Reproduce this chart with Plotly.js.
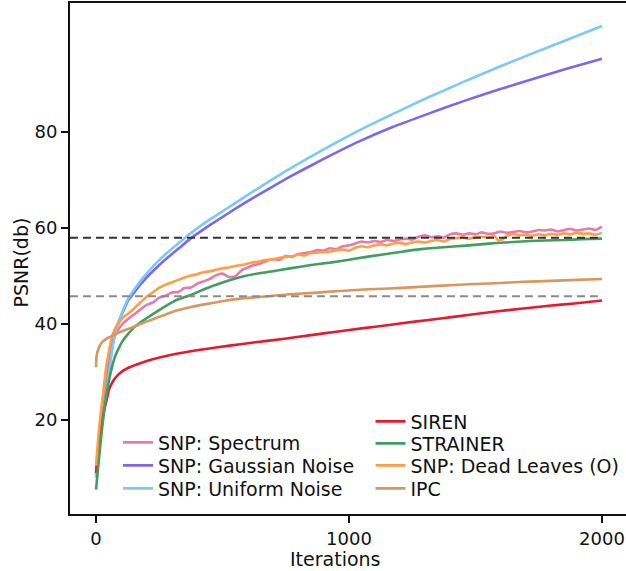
<!DOCTYPE html>
<html>
<head>
<meta charset="utf-8">
<script src="https://cdn.plot.ly/plotly-3.0.1.min.js"></script>
<style>html,body{margin:0;padding:0;background:#fff;}#chart{width:626px;height:571px;}</style>
</head>
<body>
<div id="chart"></div>
<script>
// ---- data ----
const spectrumIter = [0,10,20,30,40,50,62,75,90,110,130,150,175,200,225,250,275,300,325,350,375,400,425,450,475,500,525,550,575,600,625,650,675,700,725,750,775,800,825,850,875,900,925,950,975,1000,1025,1050,1075,1100,1125,1150,1175,1200,1225,1250,1275,1300,1325,1350,1375,1400,1425,1450,1475,1500,1525,1550,1575,1600,1625,1650,1675,1700,1725,1750,1775,1800,1825,1850,1875,1900,1925,1950,1975,2000];
const spectrumPSNR = [9.5,15,20,25,29,32,35.5,37.5,39,40.3,41.2,42,43,44,44.5,45.5,45.9,46.6,46.7,47.5,47.6,48.4,48.9,49.4,50.2,50.5,49.8,49.9,51.2,51.8,52.3,52.6,53.2,53.5,53.4,54.2,54.0,54.6,54.8,55.0,55.4,55.3,55.8,55.6,56.2,56.4,56.8,57.2,57.0,57.3,57.1,57.5,57.3,57.6,57.8,57.6,58.2,58.5,58.1,58.3,58.0,58.7,58.9,58.6,58.9,58.7,59.1,58.8,58.9,59.3,59.0,59.2,59.4,59.1,59.3,59.6,59.5,59.7,59.3,59.6,59.8,59.5,59.7,59.9,59.6,60.3];

const gaussIter = [0,10,20,36,50,62,75,90,110,128,147,175,200,240,280,330,376,450,556,650,763,900,1038,1170,1312,1450,1589,1730,1860,2000];
const gaussPSNR = [8.5,14,18.5,24.2,30,34.5,38.1,40.5,43,45,46.3,48.2,49.7,51.8,53.7,55.9,57.9,60.6,64.2,67.2,70.6,74.4,78.0,81.0,83.8,86.4,88.8,91.1,93.2,95.3];

const uniformIter = [0,10,20,36,50,62,75,90,110,128,147,175,200,240,280,350,376,450,556,650,763,900,1038,1170,1312,1450,1589,1730,1860,2000];
const uniformPSNR = [8,13.5,18,23.8,29.5,34,37.8,40.6,43.3,45.4,46.9,48.9,50.5,52.8,54.8,57.9,59.0,61.8,65.4,68.6,72.3,76.4,80.3,83.7,87.2,90.4,93.5,96.5,99.2,102.1];

const sirenIter = [0,10,20,30,42,51,62,75,100,128,178,220,318,420,528,630,738,850,950,1050,1158,1260,1370,1470,1579,1680,1790,1890,2000];
const sirenPSNR = [9,14,18.5,21.5,24.2,26.3,27.6,28.7,30.0,30.9,31.9,32.6,33.8,34.7,35.5,36.2,36.9,37.7,38.4,39.1,39.8,40.5,41.2,41.9,42.6,43.2,43.8,44.3,44.9];

const strainerIter = [0,10,22,35,49,62,75,90,108,128,150,175,200,240,280,318,372,430,503,580,635,700,767,850,925,1000,1057,1120,1188,1250,1320,1400,1451,1520,1584,1650,1715,1780,1847,1920,2000];
const strainerPSNR = [5.5,11,17.3,23,27.6,30.8,33.2,35,36.7,38,39.3,40.3,41.2,42.6,43.9,45.0,46.0,47.3,48.7,49.9,50.5,51.0,51.6,52.3,52.8,53.4,53.9,54.4,54.9,55.4,55.8,56.1,56.3,56.6,56.9,57.1,57.3,57.4,57.5,57.7,57.8];

const deadIter = [0,10,20,29,40,50,62,75,90,110,130,150,175,200,225,250,275,300,325,350,375,400,425,450,475,500,525,550,575,600,625,650,675,700,725,750,775,800,825,850,875,900,925,950,975,1000,1025,1050,1075,1100,1125,1150,1175,1200,1225,1250,1275,1300,1325,1350,1375,1400,1425,1450,1475,1500,1525,1550,1575,1590,1605,1625,1650,1675,1700,1725,1750,1775,1800,1825,1850,1875,1900,1925,1950,1975,2000];
const deadPSNR = [10.5,17,22,26,31,34,37.2,39,40.3,41.5,42.3,43.2,44.5,45.7,46.6,47.6,48.2,48.7,49.2,49.7,50.1,50.4,50.8,51.0,51.3,51.6,51.8,52.1,52.3,52.6,52.9,53.1,53.4,53.5,53.8,54.0,54.1,54.5,54.3,54.8,54.9,55.0,55.1,55.4,55.5,55.3,55.9,56.2,56.0,56.4,56.6,56.4,56.8,56.9,56.7,57.0,57.2,57.0,57.3,57.5,57.2,57.7,57.9,58.0,57.8,58.1,58.2,58.0,58.3,57.4,57.6,58.4,58.75,58.5,58.6,58.4,58.7,58.5,58.8,58.6,58.9,58.7,59.0,58.8,58.9,58.6,59.0];

const ipcIter = [0,1,3,8,15,22,35,50,62,80,108,128,175,220,270,318,372,440,503,570,635,700,767,860,964,1060,1158,1260,1370,1470,1579,1690,1800,1900,2000];
const ipcPSNR = [31,32.5,33.6,34.6,35.5,36.1,36.7,37.2,37.5,38.0,38.6,39.0,40.0,40.9,41.9,42.8,43.5,44.2,44.8,45.3,45.6,45.9,46.2,46.5,46.9,47.2,47.4,47.7,48.0,48.3,48.5,48.8,49.0,49.2,49.4];

const refLevels = [58, 45.8];          // dashed reference levels (PSNR)
const refSpan = [-103, 2000];          // x extent of dashed lines
const xTicks = [0, 1000, 2000];
const yTicks = [20, 40, 60, 80];

const seriesNames = ["SNP: Spectrum","SNP: Gaussian Noise","SNP: Uniform Noise","SIREN","STRAINER","SNP: Dead Leaves (O)","IPC"];
const seriesColors = ["#e57aab","#7b68ee","#7dc8f7","#e8192e","#429e5f","#ff9e45","#d9975f"];
const seriesX = [spectrumIter,gaussIter,uniformIter,sirenIter,strainerIter,deadIter,ipcIter];
const seriesY = [spectrumPSNR,gaussPSNR,uniformPSNR,sirenPSNR,strainerPSNR,deadPSNR,ipcPSNR];

// ---- layout helpers (pixel geometry of the plot area) ----
const F = "DejaVu Sans, Verdana, sans-serif";
const L = 70, R = 626, T = 3, B = 514;
const px = v => (v - L)/(R - L);
const py = v => (B - v)/(B - T);
// one single-entry legend per item, placed in two columns
const legendPos = [[118,442.5],[118,465.5],[118,488.5],[370.5,421.5],[370.5,443.5],[370.5,465.5],[370.5,488.5]];
const legendIds = seriesNames.map((_,i)=> i===0 ? "legend" : "legend"+(i+1));

// ---- traces ----
const traces = seriesNames.map((n,i)=>({
  type:"scatter", mode:"lines", name:n,
  x:seriesX[i], y:seriesY[i],
  line:{color:seriesColors[i], width:2.6, shape:"spline", smoothing:0.4},
  legend:legendIds[i]
}));
const dashColors = ["#333333","#8a8a8a"];
refLevels.forEach((lv,i)=>{
  traces.push({type:"scatter",mode:"lines",x:refSpan,y:[lv,lv],showlegend:false,hoverinfo:"skip",
    line:{color:dashColors[i],width:2,dash:"8px,5px"}});
});

const layout = {
  width:626, height:571,
  margin:{l:70,r:0,t:3,b:57},
  paper_bgcolor:"#fff", plot_bgcolor:"#fff",
  font:{family:F,size:18,color:"#111"},
  xaxis:{range:[-102.8,2094.9], tickvals:xTicks, ticktext:xTicks.map(String),
    showgrid:false, zeroline:false, showline:true, linecolor:"#111", linewidth:2, mirror:true,
    ticks:"outside", ticklen:7, tickwidth:2, tickcolor:"#111", tickfont:{family:F,size:18,color:"#111"}},
  yaxis:{range:[0.42,106.9], tickvals:yTicks, ticktext:yTicks.map(String),
    showgrid:false, zeroline:false, showline:true, linecolor:"#111", linewidth:2,
    ticks:"outside", ticklen:7, tickwidth:2, tickcolor:"#111", tickfont:{family:F,size:18,color:"#111"}},
  annotations:[
    {text:"PSNR(db)", xref:"paper", yref:"paper", x:px(20), y:py(262.5), textangle:-90,
      showarrow:false, font:{family:F,size:19,color:"#111"}, xanchor:"center", yanchor:"middle"},
    {text:"Iterations", xref:"paper", yref:"paper", x:px(335.7), y:py(558.5),
      showarrow:false, font:{family:F,size:19,color:"#111"}, xanchor:"center", yanchor:"middle"}
  ],
  showlegend:true
};
legendIds.forEach((id,i)=>{
  layout[id] = {x:px(legendPos[i][0]), y:py(legendPos[i][1]), xanchor:"left", yanchor:"middle",
    bgcolor:"rgba(0,0,0,0)", borderwidth:0, font:{family:F,size:19,color:"#111"}, itemwidth:30};
});

Plotly.newPlot("chart", traces, layout, {displayModeBar:false, staticPlot:true});
</script>
</body>
</html>
